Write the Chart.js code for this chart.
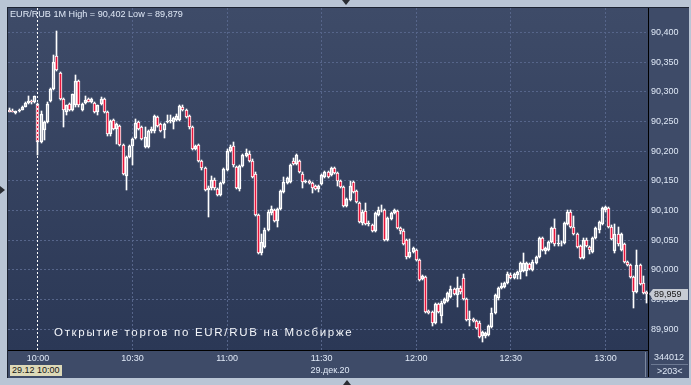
<!DOCTYPE html>
<html><head><meta charset="utf-8">
<script src="https://cdn.jsdelivr.net/npm/chart.js@4.4.1/dist/chart.umd.min.js"></script>
<style>
html,body{margin:0;padding:0;width:691px;height:385px;overflow:hidden;background:#b9c5d5;font-family:"Liberation Sans",Arial,sans-serif;}
#panel{position:absolute;left:7px;top:7px;width:681px;height:370px;border-top:1px solid #1c2332;border-left:1px solid #1c2332;background:#3e4b68;}
#wrap{position:absolute;left:8px;top:8px;width:680px;height:369px;}
.t{position:absolute;white-space:nowrap;font-size:9px;line-height:11px;color:#dfe8f6;}
#head{position:absolute;left:10px;top:9px;font-size:9.1px;line-height:11px;color:#dfe8f6;white-space:nowrap;}
#note{position:absolute;left:54px;top:326px;font-size:11.5px;line-height:13px;letter-spacing:1.7px;color:#f4f6fa;white-space:nowrap;}
#datebox{position:absolute;left:10px;top:365px;width:50px;height:11px;padding-left:2px;background:#ddd9b8;color:#151515;font-size:9px;line-height:11px;white-space:nowrap;}
#tag{position:absolute;left:653px;width:34px;height:11px;padding-left:1px;background:#c6cbd3;color:#151515;font-size:9px;line-height:11px;}
#tagarrow{position:absolute;left:649px;width:0;height:0;border-top:5.5px solid transparent;border-bottom:5.5px solid transparent;border-right:4px solid #c6cbd3;}
.line{position:absolute;}
.tri{position:absolute;width:0;height:0;}
</style></head>
<body>
<div id="panel"></div>
<div id="wrap"><canvas id="c" width="680" height="369"></canvas></div>
<div id="head">EUR/RUB 1M High = 90,402 Low = 89,879</div>
<div id="note">Открытие торгов по EUR/RUB на Мосбирже</div>
<div id="datebox">29.12 10:00</div>
<div class="t" style="left:330px;top:364.5px;transform:translateX(-50%);">29.дек.20</div>
<div class="t" style="left:654px;top:352px;">344012</div>
<div class="t" style="left:657px;top:365.5px;">&gt;203&lt;</div>
<div class="line" style="left:648px;top:350px;width:1px;height:27px;background:#000;"></div>
<div class="line" style="left:645px;top:352px;width:1px;height:25px;background:#7a879e;"></div>
<div class="line" style="left:651px;top:364px;width:37px;height:1px;background:#6c7993;"></div>
<div id="tagarrow"></div>
<div id="tag"></div>
<div class="tri" style="left:342px;top:0;border-left:4px solid transparent;border-right:4px solid transparent;border-top:5px solid #2a2d33;"></div>
<div class="tri" style="left:0;top:186px;border-top:4px solid transparent;border-bottom:4px solid transparent;border-left:5px solid #2a2d33;"></div>
<div class="tri" style="left:343px;top:380px;border-left:4px solid transparent;border-right:4px solid transparent;border-bottom:5px solid #2a2d33;"></div>
<script>
const firstMinute = 9 * 60 + 51;
const tickLabels = ['10:00','10:30','11:00','11:30','12:00','12:30','13:00'];
const yTicks = [89.90, 89.95, 90.00, 90.05, 90.10, 90.15, 90.20, 90.25, 90.30, 90.35, 90.40];
const yMin = 89.865, yMax = 90.441;
const markerLabel = '10:00';

const opens = [
90.270,90.268,90.264,90.267,90.270,90.275,90.281,90.284,90.282,90.279,
90.216,90.235,90.249,90.285,90.305,90.360,90.332,90.287,90.266,90.279,
90.270,90.277,90.318,90.270,90.281,90.287,90.283,90.281,90.265,90.280,
90.288,90.266,90.228,90.252,90.238,90.242,90.210,90.158,90.190,90.208,
90.222,90.249,90.240,90.207,90.207,90.233,90.233,90.257,90.245,90.236,
90.249,90.250,90.249,90.252,90.252,90.275,90.269,90.259,90.240,90.204,
90.210,90.183,90.172,90.134,90.137,90.152,90.136,90.126,90.146,90.169,
90.200,90.208,90.173,90.136,90.175,90.192,90.195,90.184,90.162,90.092,
90.028,90.039,90.067,90.095,90.100,90.083,90.103,90.131,90.146,90.148,
90.184,90.179,90.183,90.162,90.148,90.150,90.146,90.141,90.136,90.145,
90.157,90.164,90.160,90.172,90.163,90.150,90.140,90.107,90.118,90.148,
90.132,90.113,90.079,90.099,90.077,90.075,90.065,90.093,90.101,90.100,
90.050,90.086,90.096,90.099,90.071,90.066,90.050,90.022,90.030,90.033,
90.017,89.985,89.988,89.930,89.929,89.910,89.942,89.922,89.945,89.948,
89.955,89.967,89.958,89.970,89.986,89.951,89.915,89.917,89.914,89.911,
89.888,89.888,89.890,89.904,89.927,89.952,89.969,89.971,89.978,89.992,
89.986,89.991,89.996,89.998,89.998,90.010,90.000,90.012,90.022,90.054,
90.032,90.034,90.047,90.070,90.043,90.045,90.045,90.078,90.098,90.073,
90.060,90.040,90.020,90.051,90.038,90.030,90.054,90.067,90.078,90.100,
90.104,90.073,90.031,90.060,90.033,90.044,90.013,90.008,89.988,89.963,
90.008,89.978,89.962];

const highs = [
90.272,90.271,90.268,90.271,90.276,90.282,90.292,90.286,90.293,90.281,
90.268,90.251,90.282,90.307,90.361,90.402,90.334,90.289,90.278,90.281,
90.297,90.329,90.320,90.281,90.292,90.289,90.289,90.283,90.278,90.291,
90.290,90.268,90.252,90.254,90.247,90.244,90.212,90.192,90.210,90.222,
90.254,90.251,90.242,90.240,90.235,90.240,90.261,90.259,90.247,90.247,
90.261,90.261,90.257,90.262,90.278,90.277,90.271,90.261,90.242,90.210,
90.212,90.185,90.174,90.142,90.158,90.154,90.138,90.148,90.172,90.203,
90.210,90.215,90.175,90.177,90.195,90.203,90.200,90.186,90.164,90.094,
90.060,90.071,90.100,90.107,90.102,90.104,90.135,90.156,90.157,90.178,
90.188,90.195,90.185,90.164,90.152,90.152,90.148,90.143,90.143,90.161,
90.166,90.166,90.173,90.174,90.165,90.152,90.142,90.121,90.150,90.150,
90.134,90.115,90.100,90.113,90.082,90.077,90.098,90.106,90.110,90.102,
90.089,90.098,90.103,90.101,90.073,90.068,90.052,90.052,90.038,90.035,
90.019,89.992,89.990,89.932,89.931,89.944,89.944,89.947,89.953,89.963,
89.972,89.969,89.988,89.972,89.993,89.953,89.930,89.919,89.916,89.913,
89.897,89.895,89.907,89.936,89.959,89.971,89.978,89.979,89.996,89.994,
89.995,89.998,90.013,90.028,90.013,90.012,90.016,90.024,90.055,90.056,
90.038,90.049,90.072,90.086,90.058,90.048,90.081,90.100,90.100,90.090,
90.062,90.042,90.053,90.053,90.040,90.056,90.072,90.082,90.106,90.107,
90.106,90.075,90.078,90.072,90.062,90.046,90.015,90.010,89.990,90.034,
90.010,89.990,89.964];

const lows = [
90.265,90.265,90.262,90.266,90.269,90.274,90.280,90.280,90.281,90.193,
90.213,90.218,90.247,90.283,90.303,90.335,90.286,90.241,90.260,90.268,
90.268,90.275,90.275,90.268,90.279,90.282,90.281,90.264,90.260,90.278,
90.264,90.226,90.226,90.236,90.212,90.208,90.159,90.134,90.188,90.176,
90.220,90.236,90.218,90.205,90.205,90.231,90.231,90.241,90.232,90.222,
90.247,90.248,90.238,90.250,90.250,90.267,90.256,90.238,90.202,90.202,
90.181,90.169,90.132,90.089,90.135,90.135,90.124,90.124,90.144,90.167,
90.198,90.174,90.136,90.133,90.173,90.190,90.181,90.154,90.090,90.026,
90.025,90.037,90.065,90.093,90.080,90.073,90.101,90.129,90.144,90.146,
90.177,90.177,90.163,90.138,90.146,90.144,90.130,90.134,90.131,90.143,
90.155,90.155,90.158,90.161,90.142,90.138,90.105,90.105,90.116,90.129,
90.112,90.079,90.075,90.076,90.074,90.063,90.063,90.091,90.098,90.048,
90.048,90.084,90.094,90.069,90.060,90.042,90.019,90.020,90.028,90.015,
89.981,89.983,89.927,89.925,89.905,89.908,89.927,89.910,89.943,89.946,
89.953,89.957,89.938,89.960,89.949,89.913,89.905,89.912,89.900,89.885,
89.879,89.886,89.888,89.902,89.925,89.950,89.967,89.969,89.976,89.984,
89.984,89.985,89.985,89.996,89.990,89.999,89.998,90.010,90.020,90.031,
90.026,90.032,90.045,90.041,90.041,90.040,90.043,90.076,90.070,90.058,
90.037,90.018,90.018,90.038,90.026,90.028,90.052,90.062,90.076,90.098,
90.070,90.050,90.029,90.041,90.031,90.011,90.006,89.986,89.935,89.961,
89.974,89.959,89.945];

const closes = [
90.266,90.266,90.267,90.270,90.275,90.281,90.284,90.282,90.292,90.215,
90.262,90.249,90.280,90.305,90.350,90.337,90.288,90.269,90.277,90.270,
90.296,90.318,90.277,90.280,90.286,90.283,90.287,90.266,90.277,90.287,
90.266,90.228,90.250,90.238,90.245,90.210,90.161,90.190,90.208,90.220,
90.247,90.238,90.220,90.224,90.233,90.238,90.259,90.243,90.234,90.245,
90.250,90.252,90.255,90.259,90.276,90.269,90.258,90.240,90.204,90.208,
90.183,90.171,90.134,90.138,90.152,90.137,90.126,90.146,90.170,90.201,
90.207,90.176,90.138,90.175,90.193,90.197,90.183,90.156,90.092,90.028,
90.047,90.067,90.098,90.102,90.082,90.102,90.133,90.148,90.155,90.176,
90.179,90.193,90.165,90.148,90.150,90.146,90.137,90.136,90.141,90.159,
90.164,90.157,90.171,90.163,90.150,90.140,90.107,90.119,90.142,90.131,
90.114,90.081,90.098,90.078,90.079,90.065,90.096,90.101,90.100,90.050,
90.087,90.096,90.100,90.071,90.066,90.044,90.021,90.030,90.036,90.017,
89.983,89.990,89.929,89.927,89.910,89.942,89.929,89.945,89.951,89.961,
89.967,89.959,89.970,89.962,89.951,89.915,89.917,89.914,89.902,89.887,
89.895,89.893,89.905,89.928,89.957,89.969,89.972,89.977,89.993,89.986,
89.993,89.996,90.011,90.012,90.011,90.001,90.014,90.022,90.053,90.033,
90.036,90.047,90.070,90.043,90.045,90.046,90.079,90.098,90.072,90.060,
90.039,90.020,90.051,90.040,90.033,90.054,90.070,90.080,90.104,90.105,
90.072,90.052,90.060,90.043,90.060,90.013,90.008,89.988,89.963,90.008,
89.976,89.961,89.959];

const categories = opens.map((_, i) => {
  const t = firstMinute + i;
  return String(Math.floor(t / 60)).padStart(2, '0') + ':' + String(t % 60).padStart(2, '0');
});

const UP_FILL = 'rgba(0,0,0,0)', DOWN_FILL = '#e8163c', EDGE = '#ffffff';
const bodyLo = opens.map((o, i) => Math.min(o, closes[i]));
const bodyHi = opens.map((o, i) => Math.max(o, closes[i]));
const bodies = bodyLo.map((lo, i) => [lo, bodyHi[i]]);
const upperWicks = bodyHi.map((hi, i) => [hi, highs[i]]);
const lowerWicks = bodyLo.map((lo, i) => [lows[i], lo]);
const bodyColors = opens.map((o, i) => closes[i] < o ? DOWN_FILL : UP_FILL);

const FONT = {family: '"Liberation Sans", Arial, sans-serif', size: 9};
const GRID = '#56658a';

const bgPlugin = {
  id: 'bg',
  beforeDraw(chart) {
    const {ctx, chartArea: a} = chart;
    const g = ctx.createLinearGradient(0, a.top, 0, a.bottom);
    g.addColorStop(0, '#3e4b68');
    g.addColorStop(1, '#2b3856');
    ctx.save(); ctx.fillStyle = g;
    ctx.fillRect(a.left, a.top, a.right - a.left, a.bottom - a.top);
    ctx.restore();
  }
};
const snapPlugin = {
  id: 'snap',
  afterDatasetsUpdate(chart) {
    chart.data.datasets.forEach((d, i) => {
      chart.getDatasetMeta(i).data.forEach(el => {
        el.x = Math.floor(el.x) + 0.5;
        el.y = Math.round(el.y);
        el.base = Math.round(el.base);
      });
    });
  }
};
const markerPlugin = {
  id: 'marker',
  afterDatasetsDraw(chart) {
    const {ctx, chartArea: a, scales} = chart;
    const x = Math.floor(scales.x.getPixelForValue(categories.indexOf(markerLabel))) + 0.5;
    ctx.save();
    ctx.strokeStyle = '#ffffff'; ctx.lineWidth = 1; ctx.setLineDash([2, 2]);
    ctx.beginPath(); ctx.moveTo(x, a.top); ctx.lineTo(x, a.bottom); ctx.stroke();
    ctx.restore();
  }
};

const chart = new Chart(document.getElementById('c'), {
  type: 'bar',
  data: {
    labels: categories,
    datasets: [
      {data: upperWicks, backgroundColor: EDGE, borderWidth: 0, barThickness: 1, grouped: false, order: 3},
      {data: lowerWicks, backgroundColor: EDGE, borderWidth: 0, barThickness: 1, grouped: false, order: 2},
      {data: bodies, backgroundColor: bodyColors, borderColor: EDGE, borderWidth: 1, borderSkipped: false, barThickness: 3, grouped: false, order: 1}
    ]
  },
  options: {
    responsive: false, animation: false, devicePixelRatio: 1,
    layout: {padding: 0},
    plugins: {legend: {display: false}, tooltip: {enabled: false}, title: {display: false}},
    scales: {
      x: {
        type: 'category', offset: true,
        grid: {offset: false, color: GRID, drawTicks: false, tickLength: 0},
        border: {display: true, color: '#000000', width: 1, dash: [2, 2]},
        ticks: {color: '#dfe8f6', font: FONT, padding: 3, autoSkip: false, maxRotation: 0,
          callback(v) { return this.getLabelForValue(v); }},
        afterBuildTicks(s) { s.ticks = tickLabels.map(l => ({value: categories.indexOf(l)})); },
        afterFit(s) { s.height = 27; s.paddingLeft = 0; s.paddingRight = 0; }
      },
      y: {
        position: 'right', min: yMin, max: yMax,
        grid: {color: GRID, drawTicks: false, tickLength: 0},
        border: {display: true, color: '#000000', width: 1, dash: [2, 2]},
        ticks: {color: '#dfe8f6', font: FONT, padding: 3,
          callback: v => v.toFixed(3).replace('.', ',')},
        afterBuildTicks(s) { s.ticks = yTicks.map(v => ({value: v})); },
        afterFit(s) { s.width = 40; s.paddingTop = 0; s.paddingBottom = 0; }
      }
    }
  },
  plugins: [bgPlugin, snapPlugin, markerPlugin]
});

const last = closes[closes.length - 1];
const tagY = 8 + chart.scales.y.getPixelForValue(last);
const tag = document.getElementById('tag');
tag.textContent = last.toFixed(3).replace('.', ',');
tag.style.top = (tagY - 5.5) + 'px';
document.getElementById('tagarrow').style.top = (tagY - 5.5) + 'px';
</script>
</body></html>
